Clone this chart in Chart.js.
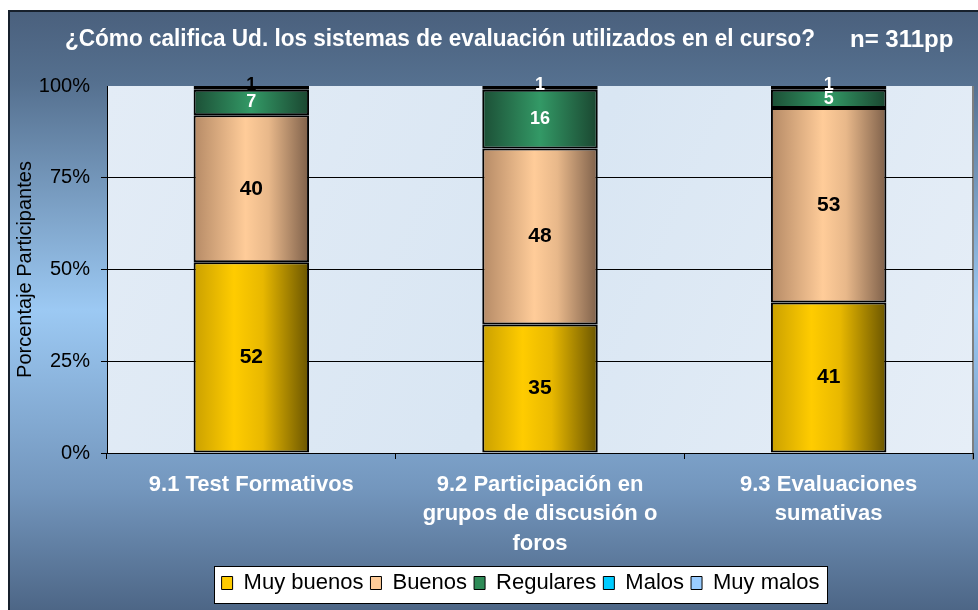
<!DOCTYPE html>
<html>
<head>
<meta charset="utf-8">
<script src="https://cdn.jsdelivr.net/npm/chart.js@4.4.1/dist/chart.umd.min.js"></script>
<style>
  html, body { margin: 0; padding: 0; background: #ffffff; }
  #wrap { width: 978px; height: 610px; }
</style>
</head>
<body>
<div id="wrap"><canvas id="c" width="978" height="610"></canvas></div>
<script>
// ---- data ----
const categories = [
  ["9.1 Test Formativos"],
  ["9.2 Participación en", "grupos de discusión o", "foros"],
  ["9.3 Evaluaciones", "sumativas"]
];
const seriesNames = ["Muy buenos", "Buenos", "Regulares", "Malos", "Muy malos"];
const muyBuenos = [52, 35, 41];
const buenos    = [40, 48, 53];
const regulares = [7, 16, 5];
const malos     = [0, 1, 1];
const muyMalos  = [1, 0, 0];
const yTicks = [0, 25, 50, 75, 100];
const titleText = "¿Cómo califica Ud. los sistemas de evaluación utilizados en el curso?";
const nText = "n= 311pp";
const yTitle = "Porcentaje Participantes";

// ---- styles ----
const flatColors = ["#ffcc00", "#ffcc99", "#2e8b57", "#00ccff", "#99ccff"];
const gradStops = [
  [[0, "#caa000"], [0.35, "#ffcc00"], [0.6, "#e8b800"], [1, "#6a5500"]],
  [[0, "#b58a66"], [0.45, "#ffcc99"], [0.65, "#e8b88a"], [1, "#7e604a"]],
  [[0, "#1c4f36"], [0.5, "#339966"], [1, "#1a4630"]],
  [[0, "#0090b8"], [0.5, "#00ccff"], [1, "#0080a8"]],
  [[0, "#1a3550"], [0.5, "#33506e"], [1, "#1a3550"]]
];
const labelColors = ["#000000", "#000000", "#ffffff", "#ffffff", "#000000"];
const FONT = "Arial, 'Liberation Sans'";
const labelFonts = ["bold 21px " + FONT, "bold 21px " + FONT,
  "bold 18px " + FONT, "bold 18px " + FONT, "bold 18px " + FONT];
const BAR_FRACTION = 0.4;

function barFill(dsIndex) {
  return function(ctx) {
    if (ctx.type !== 'data') return flatColors[dsIndex];
    const chart = ctx.chart;
    const xs = chart.scales && chart.scales.x;
    if (!chart.chartArea || !xs) return flatColors[dsIndex];
    const cx = xs.getPixelForValue(ctx.dataIndex);
    const w = (chart.chartArea.width / categories.length) * BAR_FRACTION;
    const g = chart.ctx.createLinearGradient(cx - w / 2, 0, cx + w / 2, 0);
    gradStops[dsIndex].forEach(s => g.addColorStop(s[0], s[1]));
    return g;
  };
}

const seriesData = [muyBuenos, buenos, regulares, malos, muyMalos];
const datasets = seriesNames.map((name, i) => ({
  label: name,
  data: seriesData[i],
  backgroundColor: barFill(i),
  borderColor: "#000000",
  borderWidth: 2,
  borderSkipped: false,
  categoryPercentage: 1.0,
  barPercentage: BAR_FRACTION
}));

const bgPlugin = {
  id: 'bg',
  beforeDraw(chart) {
    const c = chart.ctx;
    const W = chart.width, H = chart.height;
    c.save();
    c.fillStyle = "#ffffff";
    c.fillRect(0, 0, W, H);
    const g = c.createLinearGradient(0, 10, 0, H);
    g.addColorStop(0, "#4a607d");
    g.addColorStop(0.12, "#55708f");
    g.addColorStop(0.5, "#9cc9f3");
    g.addColorStop(0.8, "#7396bd");
    g.addColorStop(1, "#4d6686");
    c.fillStyle = g;
    c.fillRect(8, 10, W - 8, H - 10);
    c.fillStyle = "#17202c";
    c.fillRect(8, 10, W - 8, 2);
    c.fillRect(8, 10, 2, H - 10);
    const a = chart.chartArea;
    const pg = c.createLinearGradient(a.left, a.top, a.right, a.bottom);
    pg.addColorStop(0, "#e3ecf6");
    pg.addColorStop(0.5, "#d9e6f3");
    pg.addColorStop(1, "#e6eef7");
    c.fillStyle = pg;
    c.fillRect(a.left, a.top, a.right - a.left, a.bottom - a.top);
    c.fillStyle = "#7f7f7f";
    c.fillRect(a.right - 1, a.top, 2, a.bottom - a.top + 7);
    c.fillStyle = "#ffffff";
    c.textBaseline = "middle";
    c.textAlign = "left";
    c.font = "bold 23px " + FONT;
    c.fillText(titleText, 65, 40, 750);
    c.font = "bold 24px " + FONT;
    c.fillText(nText, 850, 40, 106);
    const lg = chart.legend;
    if (lg && lg.lineWidths) {
      const pad = lg.options.labels.padding;
      const lw = lg.lineWidths[0];
      const startX = (lg.left + pad + lg.right - lw) / 2;
      const x0 = Math.round(startX - 8), x1 = Math.round(startX + lw - pad + 8);
      c.fillStyle = "#ffffff";
      c.fillRect(x0, 566, x1 - x0, 37);
      c.strokeStyle = "#000000";
      c.lineWidth = 1;
      c.strokeRect(x0 + 0.5, 566.5, x1 - x0, 37);
    }
    c.restore();
  },
  afterLayout(chart) {
    const lg = chart.legend;
    if (lg) { lg.left += 30; lg.right += 30; }
  }
};

const labelPlugin = {
  id: 'valueLabels',
  afterDatasetsDraw(chart) {
    const c = chart.ctx;
    c.save();
    c.textAlign = "center";
    c.textBaseline = "middle";
    chart.data.datasets.forEach((ds, di) => {
      const meta = chart.getDatasetMeta(di);
      meta.data.forEach((el, i) => {
        const v = ds.data[i];
        if (!v) return;
        let y = (el.y + el.base) / 2;
        if (v < 2) y -= 3;
        c.fillStyle = labelColors[di];
        c.font = labelFonts[di];
        c.fillText(String(v), el.x, y);
      });
    });
    c.restore();
  }
};

new Chart(document.getElementById('c'), {
  type: 'bar',
  data: { labels: categories, datasets },
  plugins: [bgPlugin, labelPlugin],
  options: {
    responsive: false,
    animation: false,
    layout: { padding: { left: 8, right: 5, top: 86, bottom: 6 } },
    plugins: {
      title: { display: false },
      tooltip: { enabled: false },
      legend: {
        position: 'bottom',
        labels: {
          boxWidth: 11,
          boxHeight: 13,
          padding: 7,
          color: "#000000",
          font: { family: FONT, size: 22 },
          generateLabels(chart) {
            return chart.data.datasets.map((ds, i) => ({
              text: ds.label,
              fillStyle: flatColors[i],
              strokeStyle: "#000000",
              lineWidth: 1,
              hidden: false,
              datasetIndex: i
            }));
          }
        }
      }
    },
    scales: {
      x: {
        stacked: true,
        grid: { offset: true, drawOnChartArea: false, drawTicks: true, tickLength: 6, color: "#000000" },
        border: { display: true, color: "#000000", width: 1 },
        ticks: {
          color: "#ffffff",
          padding: 11,
          maxRotation: 0,
          autoSkip: false,
          font: { family: FONT, size: 22, weight: 'bold', lineHeight: 1.34 }
        },
        afterFit(scale) { scale.height = 112; }
      },
      y: {
        stacked: true,
        min: 0,
        max: 100,
        afterBuildTicks(scale) { scale.ticks = yTicks.map(v => ({ value: v })); },
        grid: {
          drawTicks: true,
          tickLength: 6,
          color: (ctx) => (ctx.tick && ctx.tick.value === 100) ? "rgba(0,0,0,0)" : "#000000",
          lineWidth: 1
        },
        border: { display: true, color: "#000000", width: 1 },
        ticks: {
          color: "#000000",
          padding: 11,
          font: { family: FONT, size: 20 },
          callback: (v) => v + "%"
        },
        title: {
          display: true,
          text: yTitle,
          color: "#000000",
          font: { family: FONT, size: 20 },
          padding: { top: 5, bottom: 0 }
        },
        afterFit(scale) { scale.width = 99; }
      }
    }
  }
});
</script>
</body>
</html>
